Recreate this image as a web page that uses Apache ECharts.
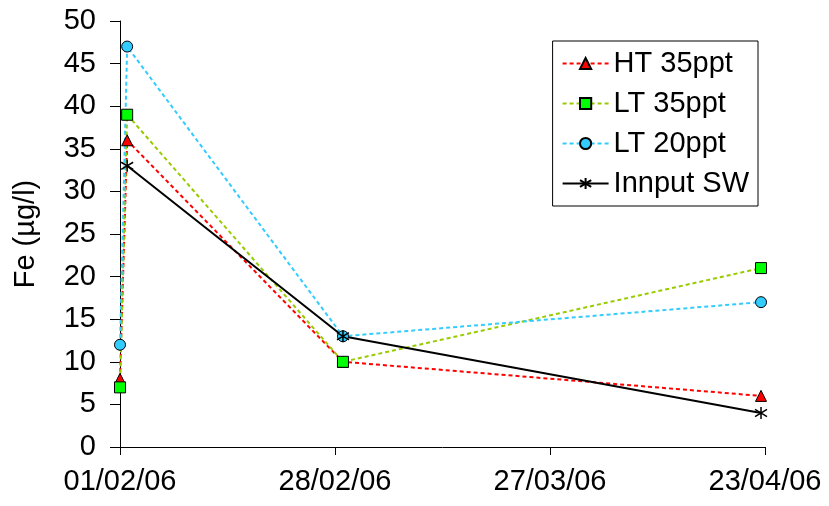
<!DOCTYPE html>
<html><head><meta charset="utf-8">
<script src="https://cdn.jsdelivr.net/npm/echarts@6/dist/echarts.min.js"></script>
<style>body{margin:0;background:#fff}#c{width:829px;height:506px}</style>
</head><body><div id="c"></div>
<script>
// days since 01/02/06
const tickDays = [0, 27, 54, 81]
const tickLabels = ['01/02/06', '28/02/06', '27/03/06', '23/04/06']
const ht35 = [[0, 8], [0.9, 36], [28, 10], [80.5, 6]]
const lt35 = [[0, 7], [0.9, 39], [28, 10], [80.5, 21]]
const lt20 = [[0, 12], [0.9, 47], [28, 13], [80.5, 17]]
const inputSW = [[0.9, 33], [28, 13], [80.5, 4]]

const star = 'path://M0,-10L0,10M-9,-6L9,6M-9,6L9,-6'
const font = 'Arial, Liberation Sans, sans-serif'

let chart = echarts.init(document.getElementById('c'))
function ser(name, data, color, symbol, fill, dashed) {
    return {
        name: name, type: 'line', data: data, symbol: symbol, symbolSize: symbol === star ? 12 : 11,
        lineStyle: {color: color, width: 2, type: dashed ? [4, 3] : 'solid'},
        itemStyle: {color: fill, borderColor: '#000', borderWidth: symbol === star ? 1.5 : 1},
        animation: false
    }
}
chart.setOption({
    grid: {left: 120, right: 64, top: 21, bottom: 59},
    xAxis: {
        type: 'value', min: 0, max: 81, interval: 27,
        axisLine: {lineStyle: {color: '#000'}}, axisTick: {show: true, length: 8, lineStyle: {color: '#000'}},
        splitLine: {show: false},
        axisLabel: {color: '#000', fontSize: 29, fontFamily: font, margin: 20,
            formatter: v => tickLabels[tickDays.indexOf(v)] || ''}
    },
    yAxis: {
        type: 'value', min: 0, max: 50, interval: 5, name: 'Fe (µg/l)', nameLocation: 'middle', nameGap: 80,
        nameTextStyle: {color: '#000', fontSize: 29, fontFamily: font},
        axisLine: {show: true, lineStyle: {color: '#000'}}, axisTick: {show: true, length: 10, lineStyle: {color: '#000'}},
        splitLine: {show: false},
        axisLabel: {color: '#000', fontSize: 29, fontFamily: font, margin: 24}
    },
    legend: {
        right: 71, top: 41, orient: 'vertical', itemGap: 11, itemWidth: 46, itemHeight: 14,
        borderColor: '#000', borderWidth: 1, padding: [8, 9, 8, 9],
        textStyle: {color: '#000', fontSize: 29, fontFamily: font},
        data: ['HT 35ppt', 'LT 35ppt', 'LT 20ppt', 'Innput SW']
    },
    series: [
        ser('HT 35ppt', ht35, '#ff0000', 'triangle', '#ff0000', true),
        ser('LT 35ppt', lt35, '#99cc00', 'rect', '#00ff00', true),
        ser('LT 20ppt', lt20, '#33ccff', 'circle', '#33ccff', true),
        ser('Innput SW', inputSW, '#000000', star, '#000', false)
    ]
})
</script></body></html>
